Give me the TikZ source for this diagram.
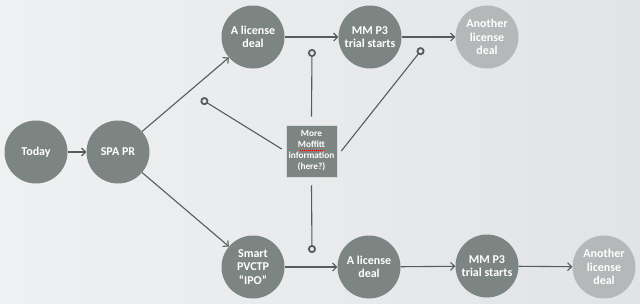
\documentclass[tikz,border=0pt]{standalone}
\usepackage{fontspec}
\setmainfont{Carlito}
\usetikzlibrary{arrows.meta}
\definecolor{nodegrey}{HTML}{7D8582}
\definecolor{lightgrey}{HTML}{B4B8B8}
\definecolor{linegrey}{HTML}{565B5B}
\definecolor{bgleft}{HTML}{EFF0F2}
\definecolor{bgright}{HTML}{E1E4E7}
\tikzset{
  stage/.style={circle,fill=nodegrey,minimum size=63pt,inner sep=0pt,align=center,
    text=white,font=\fontsize{12}{13.5}\selectfont\bfseries},
  faded/.style={stage,fill=lightgrey},
  infobox/.style={rectangle,fill=nodegrey,draw=white!70!nodegrey,line width=0.6pt,
    minimum width=51pt,minimum height=52pt,inner sep=1pt,align=center,text=white,
    font=\fontsize{9.3}{11}\selectfont\bfseries},
  flow/.style={draw=linegrey,line width=1.1pt,-{Straight Barb[length=4pt,width=8pt,line width=1.1pt]}},
  probe/.style={draw=linegrey,line width=1.1pt,-{Circle[open,length=8pt,width=8pt,line width=1.8pt]}}
}
\begin{document}
\begin{tikzpicture}[x=1pt,y=-1pt]
\shade[left color=bgleft,right color=bgright] (0,0) rectangle (640,303);
\useasboundingbox (0,0) rectangle (640,303);
\node[stage] (today) at (36,152) {Today};
\node[stage] (spa) at (118,152) {SPA PR};
\node[stage] (ald1) at (253,37) {A license\\deal};
\node[stage] (mm1) at (370,37) {MM P3\\trial starts};
\node[faded] (ano1) at (487,37) {Another\\license\\deal};
\node[stage] (smart) at (253,267) {Smart\\PVCTP\\“IPO”};
\node[stage] (ald2) at (369,267) {A license\\deal};
\node[stage] (mm2) at (487,266) {MM P3\\trial starts};
\node[faded] (ano2) at (604,267) {Another\\license\\deal};
\node[infobox] (box) at (311.5,151) {More\\Moffitt\\information\\(here?)};
\draw[red!85!black,line width=1pt,dash pattern=on 1.2pt off 0.8pt]
  ([xshift=-12pt,yshift=0.6pt]box.center) -- ([xshift=12pt,yshift=0.6pt]box.center);
\coordinate (ptop) at (312,49);
\coordinate (pleft) at (201,99);
\coordinate (pright) at (423,48);
\coordinate (pbottom) at (312,253);
\draw[flow] (today) -- (spa);
\draw[flow] (spa) -- (ald1);
\draw[flow] (spa) -- (smart);
\draw[flow] (ald1) -- (mm1);
\draw[flow] (mm1) -- (ano1);
\draw[flow] (smart) -- (ald2);
\draw[flow] (ald2) -- (mm2);
\draw[flow] (mm2) -- (ano2);
\draw[probe] ([yshift=8pt]box.north) -- (ptop);
\draw[probe] ([xshift=-4pt,yshift=2pt]box.west) -- (pleft);
\draw[probe] ([xshift=4pt]box.east) -- (pright);
\draw[probe] ([yshift=-8pt]box.south) -- (pbottom);
\end{tikzpicture}
\end{document}
